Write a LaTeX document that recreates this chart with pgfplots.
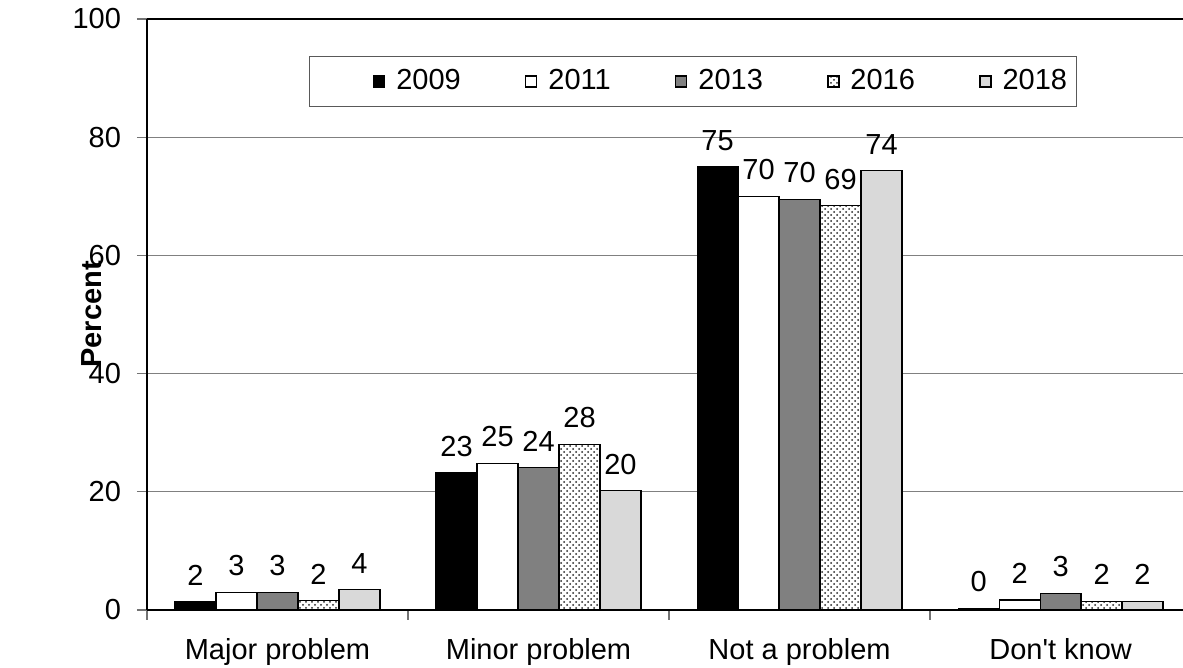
\documentclass[border=0pt]{standalone}
\usepackage{graphicx}
\usepackage{pgfplots}
\pgfplotsset{compat=1.18}
\usepackage{pgfplotstable}
\usepackage{fontspec}
\setmainfont{Liberation Sans}
\usetikzlibrary{patterns}
\definecolor{midgray}{RGB}{128,128,128}
\definecolor{lightgray2}{RGB}{217,217,217}
\pgfplotsset{firstleg/.style={legend image code/.code={\path (-29.5pt,0pt); \draw[##1,line width=0.6pt] (0pt,-2.75pt) rectangle (5.5pt,2.75pt);}}}
\pgfplotstableread{
cat y09 l09 y11 l11 y13 l13 y16 l16 y18 l18
0 1.4 2 3.0 3 3.0 3 1.6 2 3.5 4
1 23.2 23 24.8 25 24.1 24 28.0 28 20.2 20
2 75.0 75 70.0 70 69.5 70 68.4 69 74.4 74
3 0.3 0 1.7 2 2.8 3 1.5 2 1.5 2
}\data
\begin{document}
\fontsize{14.5}{17}\selectfont
\begin{tikzpicture}
\begin{axis}[
  width=518pt, height=295.5pt, scale only axis,
  xmin=-0.5, xmax=3.469, ymin=0, ymax=100,
  clip=false,
  axis line style={draw=none},
  tick pos=left,
  ytick={0,20,40,60,80,100},
  extra y ticks={0,100}, extra y tick labels={},
  extra y tick style={major grid style={black, line width=1pt}, major tick length=0pt},
  extra x ticks={-0.5}, extra x tick labels={},
  extra x tick style={grid=major, major grid style={black, line width=1pt}},
  xtick={0,1,2,3},
  xticklabels={Major problem, Minor problem, Not a problem, Don\textquotesingle t know},
  minor xtick={-0.5,0.5,1.5,2.5,3.5},
  major x tick style={draw=none},
  tick style={black!55, line width=0.6pt},
  tick align=outside,
  major tick length=5pt, minor tick length=5pt,
  ymajorgrids, major grid style={black!50, line width=0.6pt},
  /pgf/number format/assume math mode=true,
  ylabel={\rotatebox{90}{\textbf{Percent}}},
  ylabel style={at={(axis description cs:-0.0531,0.5)}, anchor=center, rotate=-90},
  xticklabel style={yshift=-4pt},
  yticklabel style={xshift=-3pt},
  ybar=0pt, bar width=0.157,
  point meta=explicit symbolic,
  nodes near coords,
  every node near coord/.append style={black, yshift=3pt},
  legend columns=5,
  legend cell align=left,
  legend style={at={(0.1559,0.938)}, anchor=north west, draw=black!65, line width=0.6pt,
    inner xsep=2.5pt, inner ysep=4.5pt,
    /tikz/every odd column/.append style={column sep=3.5pt},
    /tikz/every even column/.append style={column sep=30.2pt}},
  legend image code/.code={\draw[#1,line width=0.6pt] (0pt,-2.75pt) rectangle (5.5pt,2.75pt);},
]
\addplot[draw=black, line width=0.6pt, fill=black, bar shift=0pt, firstleg]
  table[x expr=\thisrow{cat}-0.314, y=y09, meta=l09]{\data};
\addplot[draw=black, line width=0.6pt, fill=white, bar shift=0pt]
  table[x expr=\thisrow{cat}-0.157, y=y11, meta=l11]{\data};
\addplot[draw=black, line width=0.6pt, fill=midgray, bar shift=0pt]
  table[x expr=\thisrow{cat}, y=y13, meta=l13]{\data};
\addplot[draw=black, line width=0.6pt, fill=white, postaction={pattern=crosshatch dots, pattern color=black!85}, bar shift=0pt]
  table[x expr=\thisrow{cat}+0.157, y=y16, meta=l16]{\data};
\addplot[draw=black, line width=0.6pt, fill=lightgray2, bar shift=0pt]
  table[x expr=\thisrow{cat}+0.314, y=y18, meta=l18]{\data};
\legend{2009,2011,2013,2016,2018}
\end{axis}
\pgfresetboundingbox
\path[use as bounding box] ([shift={(-73.5pt,-29pt)}]current axis.south west) rectangle ([shift={(518pt,9.5pt)}]current axis.north west);
\end{tikzpicture}
\end{document}
